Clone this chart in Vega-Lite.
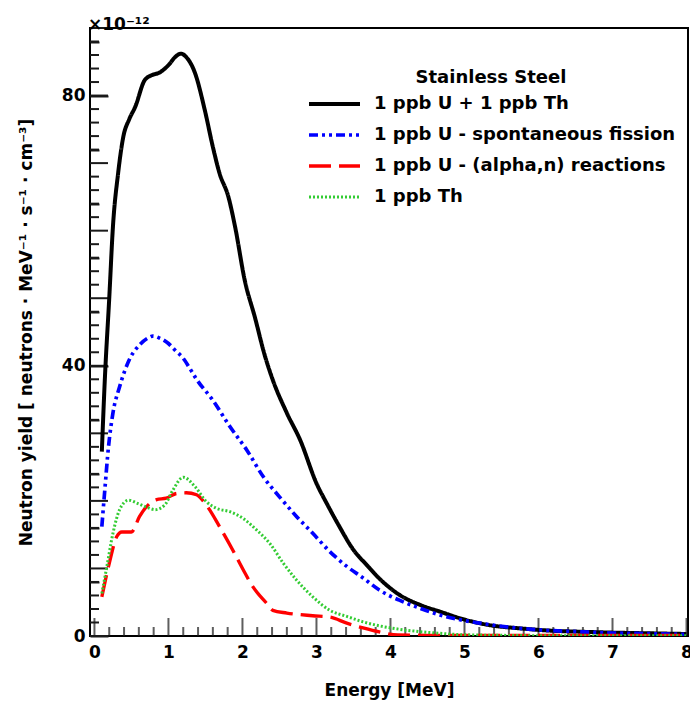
{
  "$schema": "https://vega.github.io/schema/vega-lite/v6.json",
  "width": 598,
  "height": 608,
  "autosize": {"type": "none"},
  "padding": {"left": 90, "top": 28, "right": 2, "bottom": 65},
  "background": "white",
  "title": {"text": "×10⁻¹²", "anchor": "start", "frame": "group", "font": "DejaVu Sans", "fontSize": 17, "fontWeight": "bold", "color": "black", "offset": -7, "dx": -2},
  "datasets": {
    "curves": [
      {"s": "1 ppb U + 1 ppb Th", "E": 0.1, "Y": 27.3},
      {"s": "1 ppb U + 1 ppb Th", "E": 0.14, "Y": 37.9},
      {"s": "1 ppb U + 1 ppb Th", "E": 0.2, "Y": 50.0},
      {"s": "1 ppb U + 1 ppb Th", "E": 0.25, "Y": 60.6},
      {"s": "1 ppb U + 1 ppb Th", "E": 0.32, "Y": 68.5},
      {"s": "1 ppb U + 1 ppb Th", "E": 0.39, "Y": 73.9},
      {"s": "1 ppb U + 1 ppb Th", "E": 0.47, "Y": 76.5},
      {"s": "1 ppb U + 1 ppb Th", "E": 0.55, "Y": 78.3},
      {"s": "1 ppb U + 1 ppb Th", "E": 0.68, "Y": 82.3},
      {"s": "1 ppb U + 1 ppb Th", "E": 0.77, "Y": 83.0},
      {"s": "1 ppb U + 1 ppb Th", "E": 0.88, "Y": 83.4},
      {"s": "1 ppb U + 1 ppb Th", "E": 1.0, "Y": 84.5},
      {"s": "1 ppb U + 1 ppb Th", "E": 1.1, "Y": 85.8},
      {"s": "1 ppb U + 1 ppb Th", "E": 1.17, "Y": 86.2},
      {"s": "1 ppb U + 1 ppb Th", "E": 1.24, "Y": 85.7},
      {"s": "1 ppb U + 1 ppb Th", "E": 1.36, "Y": 83.3},
      {"s": "1 ppb U + 1 ppb Th", "E": 1.49, "Y": 77.9},
      {"s": "1 ppb U + 1 ppb Th", "E": 1.6, "Y": 72.4},
      {"s": "1 ppb U + 1 ppb Th", "E": 1.69, "Y": 68.5},
      {"s": "1 ppb U + 1 ppb Th", "E": 1.81, "Y": 65.0},
      {"s": "1 ppb U + 1 ppb Th", "E": 1.9, "Y": 60.6},
      {"s": "1 ppb U + 1 ppb Th", "E": 2.03, "Y": 52.7},
      {"s": "1 ppb U + 1 ppb Th", "E": 2.17, "Y": 47.1},
      {"s": "1 ppb U + 1 ppb Th", "E": 2.3, "Y": 41.6},
      {"s": "1 ppb U + 1 ppb Th", "E": 2.41, "Y": 37.9},
      {"s": "1 ppb U + 1 ppb Th", "E": 2.6, "Y": 33.0},
      {"s": "1 ppb U + 1 ppb Th", "E": 2.78, "Y": 29.0},
      {"s": "1 ppb U + 1 ppb Th", "E": 3.0, "Y": 22.6},
      {"s": "1 ppb U + 1 ppb Th", "E": 3.14, "Y": 19.6},
      {"s": "1 ppb U + 1 ppb Th", "E": 3.31, "Y": 16.2},
      {"s": "1 ppb U + 1 ppb Th", "E": 3.49, "Y": 12.9},
      {"s": "1 ppb U + 1 ppb Th", "E": 3.68, "Y": 10.5},
      {"s": "1 ppb U + 1 ppb Th", "E": 3.86, "Y": 8.4},
      {"s": "1 ppb U + 1 ppb Th", "E": 4.12, "Y": 6.1},
      {"s": "1 ppb U + 1 ppb Th", "E": 4.4, "Y": 4.6},
      {"s": "1 ppb U + 1 ppb Th", "E": 4.67, "Y": 3.6},
      {"s": "1 ppb U + 1 ppb Th", "E": 4.98, "Y": 2.5},
      {"s": "1 ppb U + 1 ppb Th", "E": 5.34, "Y": 1.6},
      {"s": "1 ppb U + 1 ppb Th", "E": 5.74, "Y": 1.14},
      {"s": "1 ppb U + 1 ppb Th", "E": 6.15, "Y": 0.8},
      {"s": "1 ppb U + 1 ppb Th", "E": 6.55, "Y": 0.64},
      {"s": "1 ppb U + 1 ppb Th", "E": 7.0, "Y": 0.5},
      {"s": "1 ppb U + 1 ppb Th", "E": 7.5, "Y": 0.4},
      {"s": "1 ppb U + 1 ppb Th", "E": 8.0, "Y": 0.3},

      {"s": "1 ppb U - spontaneous fission", "E": 0.1, "Y": 16.2},
      {"s": "1 ppb U - spontaneous fission", "E": 0.14, "Y": 21.6},
      {"s": "1 ppb U - spontaneous fission", "E": 0.19, "Y": 28.0},
      {"s": "1 ppb U - spontaneous fission", "E": 0.25, "Y": 33.0},
      {"s": "1 ppb U - spontaneous fission", "E": 0.34, "Y": 36.9},
      {"s": "1 ppb U - spontaneous fission", "E": 0.48, "Y": 41.1},
      {"s": "1 ppb U - spontaneous fission", "E": 0.61, "Y": 43.1},
      {"s": "1 ppb U - spontaneous fission", "E": 0.72, "Y": 44.1},
      {"s": "1 ppb U - spontaneous fission", "E": 0.79, "Y": 44.4},
      {"s": "1 ppb U - spontaneous fission", "E": 0.88, "Y": 44.1},
      {"s": "1 ppb U - spontaneous fission", "E": 1.0, "Y": 43.3},
      {"s": "1 ppb U - spontaneous fission", "E": 1.09, "Y": 42.3},
      {"s": "1 ppb U - spontaneous fission", "E": 1.2, "Y": 41.1},
      {"s": "1 ppb U - spontaneous fission", "E": 1.29, "Y": 39.6},
      {"s": "1 ppb U - spontaneous fission", "E": 1.38, "Y": 38.0},
      {"s": "1 ppb U - spontaneous fission", "E": 1.6, "Y": 34.9},
      {"s": "1 ppb U - spontaneous fission", "E": 1.83, "Y": 31.0},
      {"s": "1 ppb U - spontaneous fission", "E": 2.06, "Y": 27.5},
      {"s": "1 ppb U - spontaneous fission", "E": 2.28, "Y": 23.6},
      {"s": "1 ppb U - spontaneous fission", "E": 2.5, "Y": 20.6},
      {"s": "1 ppb U - spontaneous fission", "E": 2.73, "Y": 17.7},
      {"s": "1 ppb U - spontaneous fission", "E": 2.95, "Y": 15.2},
      {"s": "1 ppb U - spontaneous fission", "E": 3.18, "Y": 12.5},
      {"s": "1 ppb U - spontaneous fission", "E": 3.41, "Y": 10.3},
      {"s": "1 ppb U - spontaneous fission", "E": 3.63, "Y": 8.6},
      {"s": "1 ppb U - spontaneous fission", "E": 3.85, "Y": 6.8},
      {"s": "1 ppb U - spontaneous fission", "E": 4.12, "Y": 5.3},
      {"s": "1 ppb U - spontaneous fission", "E": 4.4, "Y": 4.1},
      {"s": "1 ppb U - spontaneous fission", "E": 4.67, "Y": 3.1},
      {"s": "1 ppb U - spontaneous fission", "E": 4.94, "Y": 2.4},
      {"s": "1 ppb U - spontaneous fission", "E": 5.21, "Y": 1.9},
      {"s": "1 ppb U - spontaneous fission", "E": 5.61, "Y": 1.29},
      {"s": "1 ppb U - spontaneous fission", "E": 6.01, "Y": 0.9},
      {"s": "1 ppb U - spontaneous fission", "E": 6.55, "Y": 0.64},
      {"s": "1 ppb U - spontaneous fission", "E": 7.0, "Y": 0.45},
      {"s": "1 ppb U - spontaneous fission", "E": 7.5, "Y": 0.35},
      {"s": "1 ppb U - spontaneous fission", "E": 8.0, "Y": 0.25},

      {"s": "1 ppb U - (alpha,n) reactions", "E": 0.1, "Y": 5.8},
      {"s": "1 ppb U - (alpha,n) reactions", "E": 0.21, "Y": 11.2},
      {"s": "1 ppb U - (alpha,n) reactions", "E": 0.3, "Y": 14.7},
      {"s": "1 ppb U - (alpha,n) reactions", "E": 0.37, "Y": 15.4},
      {"s": "1 ppb U - (alpha,n) reactions", "E": 0.5, "Y": 15.4},
      {"s": "1 ppb U - (alpha,n) reactions", "E": 0.61, "Y": 17.7},
      {"s": "1 ppb U - (alpha,n) reactions", "E": 0.7, "Y": 19.1},
      {"s": "1 ppb U - (alpha,n) reactions", "E": 0.84, "Y": 20.2},
      {"s": "1 ppb U - (alpha,n) reactions", "E": 0.97, "Y": 20.4},
      {"s": "1 ppb U - (alpha,n) reactions", "E": 1.11, "Y": 21.1},
      {"s": "1 ppb U - (alpha,n) reactions", "E": 1.24, "Y": 21.2},
      {"s": "1 ppb U - (alpha,n) reactions", "E": 1.38, "Y": 20.9},
      {"s": "1 ppb U - (alpha,n) reactions", "E": 1.51, "Y": 19.4},
      {"s": "1 ppb U - (alpha,n) reactions", "E": 1.69, "Y": 16.2},
      {"s": "1 ppb U - (alpha,n) reactions", "E": 1.87, "Y": 12.7},
      {"s": "1 ppb U - (alpha,n) reactions", "E": 2.01, "Y": 9.8},
      {"s": "1 ppb U - (alpha,n) reactions", "E": 2.14, "Y": 7.3},
      {"s": "1 ppb U - (alpha,n) reactions", "E": 2.33, "Y": 4.8},
      {"s": "1 ppb U - (alpha,n) reactions", "E": 2.41, "Y": 3.8},
      {"s": "1 ppb U - (alpha,n) reactions", "E": 2.6, "Y": 3.4},
      {"s": "1 ppb U - (alpha,n) reactions", "E": 2.95, "Y": 3.0},
      {"s": "1 ppb U - (alpha,n) reactions", "E": 3.18, "Y": 2.8},
      {"s": "1 ppb U - (alpha,n) reactions", "E": 3.41, "Y": 1.9},
      {"s": "1 ppb U - (alpha,n) reactions", "E": 3.63, "Y": 1.2},
      {"s": "1 ppb U - (alpha,n) reactions", "E": 3.85, "Y": 0.6},
      {"s": "1 ppb U - (alpha,n) reactions", "E": 4.1, "Y": 0.15},
      {"s": "1 ppb U - (alpha,n) reactions", "E": 4.5, "Y": 0.1},
      {"s": "1 ppb U - (alpha,n) reactions", "E": 5.0, "Y": 0.1},
      {"s": "1 ppb U - (alpha,n) reactions", "E": 6.0, "Y": 0.1},
      {"s": "1 ppb U - (alpha,n) reactions", "E": 7.0, "Y": 0.1},
      {"s": "1 ppb U - (alpha,n) reactions", "E": 8.0, "Y": 0.1},

      {"s": "1 ppb Th", "E": 0.1, "Y": 6.3},
      {"s": "1 ppb Th", "E": 0.16, "Y": 9.8},
      {"s": "1 ppb Th", "E": 0.25, "Y": 15.2},
      {"s": "1 ppb Th", "E": 0.34, "Y": 18.7},
      {"s": "1 ppb Th", "E": 0.46, "Y": 20.1},
      {"s": "1 ppb Th", "E": 0.59, "Y": 19.6},
      {"s": "1 ppb Th", "E": 0.7, "Y": 19.1},
      {"s": "1 ppb Th", "E": 0.82, "Y": 18.7},
      {"s": "1 ppb Th", "E": 0.95, "Y": 19.4},
      {"s": "1 ppb Th", "E": 1.06, "Y": 21.6},
      {"s": "1 ppb Th", "E": 1.2, "Y": 23.5},
      {"s": "1 ppb Th", "E": 1.36, "Y": 22.1},
      {"s": "1 ppb Th", "E": 1.51, "Y": 19.9},
      {"s": "1 ppb Th", "E": 1.65, "Y": 18.9},
      {"s": "1 ppb Th", "E": 1.83, "Y": 18.4},
      {"s": "1 ppb Th", "E": 2.01, "Y": 17.4},
      {"s": "1 ppb Th", "E": 2.19, "Y": 15.7},
      {"s": "1 ppb Th", "E": 2.37, "Y": 13.7},
      {"s": "1 ppb Th", "E": 2.55, "Y": 10.8},
      {"s": "1 ppb Th", "E": 2.73, "Y": 8.3},
      {"s": "1 ppb Th", "E": 2.95, "Y": 5.8},
      {"s": "1 ppb Th", "E": 3.18, "Y": 3.8},
      {"s": "1 ppb Th", "E": 3.41, "Y": 2.9},
      {"s": "1 ppb Th", "E": 3.63, "Y": 2.1},
      {"s": "1 ppb Th", "E": 3.85, "Y": 1.5},
      {"s": "1 ppb Th", "E": 4.12, "Y": 1.0},
      {"s": "1 ppb Th", "E": 4.4, "Y": 0.64},
      {"s": "1 ppb Th", "E": 4.67, "Y": 0.4},
      {"s": "1 ppb Th", "E": 4.94, "Y": 0.2},
      {"s": "1 ppb Th", "E": 5.5, "Y": 0.1},
      {"s": "1 ppb Th", "E": 6.0, "Y": 0.05},
      {"s": "1 ppb Th", "E": 7.0, "Y": 0.05},
      {"s": "1 ppb Th", "E": 8.0, "Y": 0.05}
    ],
    "xminor": [{"t":0.2},{"t":0.4},{"t":0.6},{"t":0.8},{"t":1.2},{"t":1.4},{"t":1.6},{"t":1.8},{"t":2.2},{"t":2.4},{"t":2.6},{"t":2.8},{"t":3.2},{"t":3.4},{"t":3.6},{"t":3.8},{"t":4.2},{"t":4.4},{"t":4.6},{"t":4.8},{"t":5.2},{"t":5.4},{"t":5.6},{"t":5.8},{"t":6.2},{"t":6.4},{"t":6.6},{"t":6.8},{"t":7.2},{"t":7.4},{"t":7.6},{"t":7.8}],
    "xmajor": [{"t":0},{"t":1},{"t":2},{"t":3},{"t":4},{"t":5},{"t":6},{"t":7},{"t":8}],
    "yminor": [{"v":2},{"v":4},{"v":6},{"v":8},{"v":12},{"v":14},{"v":16},{"v":18},{"v":22},{"v":24},{"v":26},{"v":28},{"v":32},{"v":34},{"v":36},{"v":38},{"v":42},{"v":44},{"v":46},{"v":48},{"v":52},{"v":54},{"v":56},{"v":58},{"v":62},{"v":64},{"v":66},{"v":68},{"v":72},{"v":74},{"v":76},{"v":78},{"v":82},{"v":84},{"v":86},{"v":88}],
    "ymajor": [{"v":0},{"v":10},{"v":20},{"v":30},{"v":40},{"v":50},{"v":60},{"v":70},{"v":80},{"v":90}]
  },
  "layer": [
    {
      "data": {"name": "xminor"},
      "mark": {"type": "tick", "orient": "vertical", "size": 18, "thickness": 2, "color": "#1a1a1a", "clip": true},
      "encoding": {
        "x": {"field": "t", "type": "quantitative"},
        "y": {"datum": 0, "type": "quantitative"}
      }
    },
    {
      "data": {"name": "xmajor"},
      "mark": {"type": "tick", "orient": "vertical", "size": 36, "thickness": 2, "color": "#1a1a1a", "clip": true},
      "encoding": {
        "x": {"field": "t", "type": "quantitative"},
        "y": {"datum": 0, "type": "quantitative"}
      }
    },
    {
      "data": {"name": "yminor"},
      "mark": {"type": "rule", "color": "#1a1a1a", "strokeWidth": 2},
      "encoding": {
        "x": {"datum": -0.06, "type": "quantitative"},
        "x2": {"datum": 0.062},
        "y": {"field": "v", "type": "quantitative"}
      }
    },
    {
      "data": {"name": "ymajor"},
      "mark": {"type": "rule", "color": "#1a1a1a", "strokeWidth": 2},
      "encoding": {
        "x": {"datum": -0.06, "type": "quantitative"},
        "x2": {"datum": 0.183},
        "y": {"field": "v", "type": "quantitative"}
      }
    },
    {
      "data": {"name": "curves"},
      "mark": {"type": "line", "interpolate": "monotone", "clip": true},
      "encoding": {
        "x": {
          "field": "E", "type": "quantitative",
          "scale": {"domain": [-0.06, 8.02], "nice": false, "zero": false},
          "axis": {
            "orient": "bottom",
            "title": "Energy [MeV]",
            "values": [0, 1, 2, 3, 4, 5, 6, 7, 8],
            "format": "d",
            "ticks": false,
            "grid": false,
            "labelPadding": 8,
            "titlePadding": 22
          }
        },
        "y": {
          "field": "Y", "type": "quantitative",
          "scale": {"domain": [0, 90], "nice": false},
          "axis": {
            "orient": "left",
            "title": "Neutron yield  [ neutrons · MeV⁻¹ · s⁻¹ · cm⁻³]",
            "values": [0,2,4,6,8,10,12,14,16,18,20,22,24,26,28,30,32,34,36,38,40,42,44,46,48,50,52,54,56,58,60,62,64,66,68,70,72,74,76,78,80,82,84,86,88,90],
            "format": "d",
            "labelExpr": "datum.value % 10 === 0 ? datum.label : ''",
            "ticks": false,
            "grid": true,
            "gridColor": "#1a1a1a",
            "gridWidth": 2,
            "gridOpacity": 1,
            "gridDash": {"condition": {"test": "datum.value % 10 === 0", "value": [18, 1000]}, "value": [9, 1000]},
            "labelPadding": 5,
            "titlePadding": 26
          }
        },
        "color": {
          "field": "s", "type": "nominal",
          "scale": {
            "domain": ["1 ppb U + 1 ppb Th", "1 ppb U - spontaneous fission", "1 ppb U - (alpha,n) reactions", "1 ppb Th"],
            "range": ["#000000", "#0000ff", "#ff0000", "#33cc33"]
          },
          "legend": {
            "title": "Stainless Steel",
            "orient": "none",
            "legendX": 217,
            "legendY": 41,
            "symbolType": "stroke",
            "symbolSize": 2600,
            "clipHeight": 22,
            "labelOffset": 12,
            "rowPadding": 9,
            "titleAnchor": "middle",
            "titlePadding": 6
          }
        },
        "strokeDash": {
          "field": "s", "type": "nominal",
          "scale": {
            "domain": ["1 ppb U + 1 ppb Th", "1 ppb U - spontaneous fission", "1 ppb U - (alpha,n) reactions", "1 ppb Th"],
            "range": [[1, 0], [9, 4, 3, 4, 3, 4], [22, 8], [2, 2]]
          }
        },
        "strokeWidth": {
          "field": "s", "type": "nominal",
          "scale": {
            "domain": ["1 ppb U + 1 ppb Th", "1 ppb U - spontaneous fission", "1 ppb U - (alpha,n) reactions", "1 ppb Th"],
            "range": [4, 3, 3.5, 2.5]
          }
        }
      }
    }
  ],
  "config": {
    "view": {"stroke": "black", "strokeWidth": 2},
    "font": "DejaVu Sans",
    "axis": {
      "domain": false,
      "labelFont": "DejaVu Sans",
      "labelFontSize": 17,
      "labelFontWeight": "bold",
      "labelColor": "black",
      "labelFlush": false,
      "labelOverlap": false,
      "labelBound": false,
      "titleFont": "DejaVu Sans",
      "titleFontSize": 17,
      "titleFontWeight": "bold",
      "titleColor": "black"
    },
    "legend": {
      "labelFont": "DejaVu Sans",
      "labelFontSize": 18,
      "labelFontWeight": "bold",
      "labelColor": "black",
      "labelLimit": 0,
      "titleFont": "DejaVu Sans",
      "titleFontSize": 18,
      "titleFontWeight": "bold",
      "titleColor": "black",
      "titleLimit": 0
    }
  }
}
